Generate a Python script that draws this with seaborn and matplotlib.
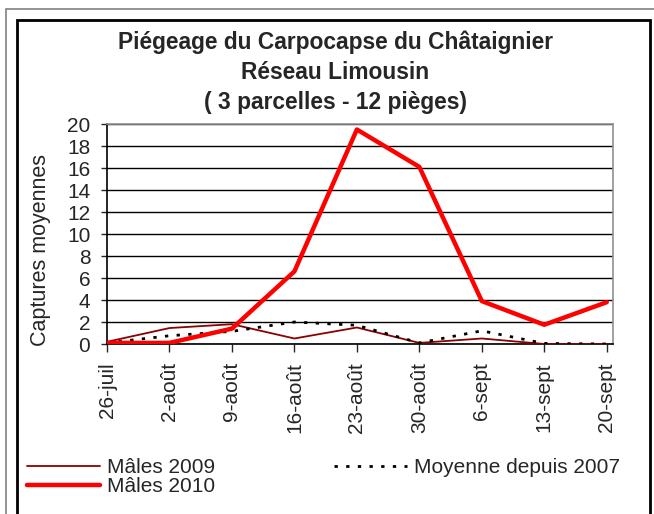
import matplotlib
matplotlib.use("Agg")
import matplotlib.pyplot as plt
from matplotlib.patches import Rectangle
import seaborn as sns
import pandas as pd

# data
dates = ["26-juil", "2-août", "9-août", "16-août", "23-août",
         "30-août", "6-sept", "13-sept", "20-sept"]
males_2009 = [0.2, 1.45, 1.8, 0.5, 1.5, 0.1, 0.5, 0.0, 0.0]
males_2010 = [0.1, 0.1, 1.4, 6.6, 19.5, 16.1, 3.9, 1.75, 3.8]
moyenne_2007 = [0.1, 0.75, 1.15, 2.0, 1.7, 0.1, 1.2, 0.05, 0.0]

df = pd.DataFrame({"pos": range(len(dates)), "date": dates,
                   "Mâles 2009": males_2009, "Mâles 2010": males_2010,
                   "Moyenne depuis 2007": moyenne_2007})

sns.set_style("white")
plt.rcParams['font.family'] = ['Liberation Sans', 'DejaVu Sans']

W, H = 654, 514
fig = plt.figure(figsize=(W / 100, H / 100), dpi=100)

# frames around chart
fig.patches.append(Rectangle((6 / W, -0.1), 1.2, (H - 9) / H + 0.1, transform=fig.transFigure,
                             fill=False, edgecolor="#808080", lw=1.2, zorder=0))
fig.patches.append(Rectangle((17 / W, -0.1), (650 - 17) / W, (H - 20) / H + 0.1,
                             transform=fig.transFigure, fill=False,
                             edgecolor="black", lw=2, zorder=0))

ax = fig.add_axes([107 / W, (H - 344) / H, (613 - 107) / W, 220 / H])

sns.lineplot(data=df, x="pos", y="Mâles 2009", ax=ax, color="#8b0000", lw=1.3,
             label="Mâles 2009", zorder=3)
sns.lineplot(data=df, x="pos", y="Mâles 2010", ax=ax, color="#ff0000", lw=3.2,
             label="Mâles 2010", zorder=4)
sns.lineplot(data=df, x="pos", y="Moyenne depuis 2007", ax=ax, color="black", lw=2,
             linestyle=(0, (1.2, 3)), label="Moyenne depuis 2007", zorder=3)

ax.set_xlim(0, 8.1)
ax.set_ylim(0, 20)
ax.set_yticks(range(0, 21, 2))
ax.set_xticks(df["pos"])
ax.set_xticklabels(dates, rotation=90, fontsize=15)
ax.tick_params(axis="y", labelsize=15, length=4, width=1, direction="out", left=True, pad=8)
ax.tick_params(axis="x", length=6, width=1, direction="out", bottom=True, pad=7)
ax.grid(axis="y", color="black", lw=1)
ax.set_axisbelow(True)
for s in ["left", "bottom"]:
    ax.spines[s].set_color("black")
    ax.spines[s].set_linewidth(1.2)
for s in ["top", "right"]:
    ax.spines[s].set_color("#909090")
    ax.spines[s].set_linewidth(1.2)
ax.set_xlabel("")
ax.set_ylabel("Captures moyennes", fontsize=15.5)
ax.yaxis.set_label_coords(-0.111, 0.427)

for i, t in enumerate(["Piégeage du Carpocapse du Châtaignier", "Réseau Limousin",
                       "( 3 parcelles - 12 pièges)"]):
    fig.text(335 / W, 1 - (42 + i * 30.5) / H, t, ha="center", va="center",
             fontsize=16.4, fontweight="bold")

handles, labels = ax.get_legend_handles_labels()
ax.get_legend().remove()
fig.legend(handles, labels, ncol=2, loc="upper left",
           bbox_to_anchor=(19 / W, 1 - 450 / H), frameon=False, fontsize=15,
           handlelength=3.5, handletextpad=0.33, columnspacing=5.7,
           labelspacing=0.0, borderaxespad=0)

fig.savefig("out.png", dpi=100)
